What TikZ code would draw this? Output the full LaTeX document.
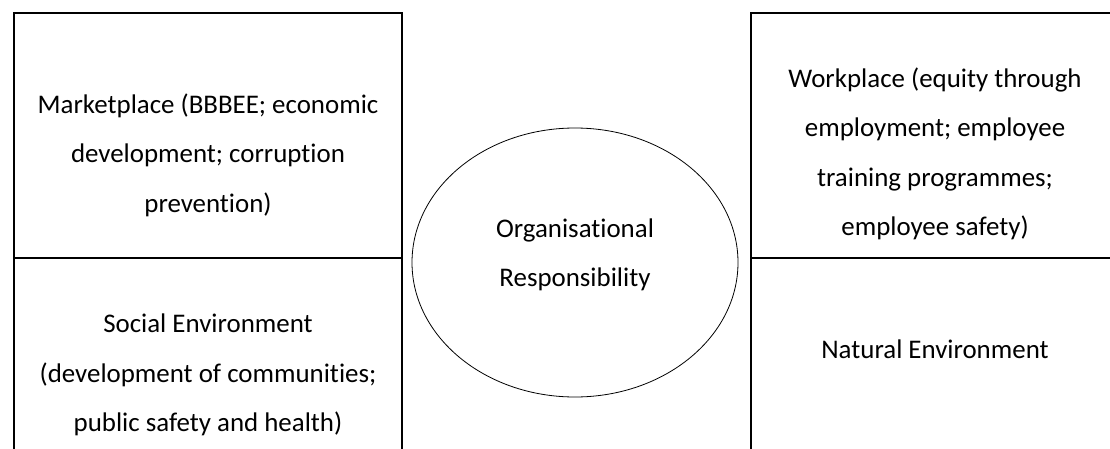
\documentclass[tikz,border=0pt]{standalone}
\usepackage{fontspec}
\setmainfont{Carlito}[Ligatures=NoCommon]
\usepackage{tikz}

\tikzset{
  txt/.style={align=center, font=\fontsize{26.9}{49.5}\selectfont},
  frame/.style={line width=1.3pt}
}

\begin{document}
\begin{tikzpicture}[x=1pt,y=1pt]
\useasboundingbox (0,0) rectangle (1110,448);
\clip (0,0) rectangle (1110,448);
\draw [frame] (14,435) rectangle (402,190) node (mkt) [txt,pos=.5,yshift=-19.5pt] {Marketplace (BBBEE; economic\\ development; corruption\\ prevention)};
\draw [frame] (14,190) rectangle (402,-40) node (soc) [txt,pos=.5,yshift=-2pt] {Social Environment\\ (development of communities;\\ public safety and health)};
\draw [frame] (751,435) rectangle (1119,190) node (wrk) [txt,pos=.5,yshift=-18.5pt] {Workplace (equity through\\ employment; employee\\ training programmes;\\ employee safety)};
\draw [frame] (751,190) rectangle (1119,-40) node (nat) [txt,pos=.5,yshift=24pt] {Natural Environment};
\draw [line width=0.8pt] (575,185.5) ellipse [x radius=163, y radius=134.5];
\node (org) [txt] at (575,193) {Organisational\\ Responsibility};
\end{tikzpicture}
\end{document}
